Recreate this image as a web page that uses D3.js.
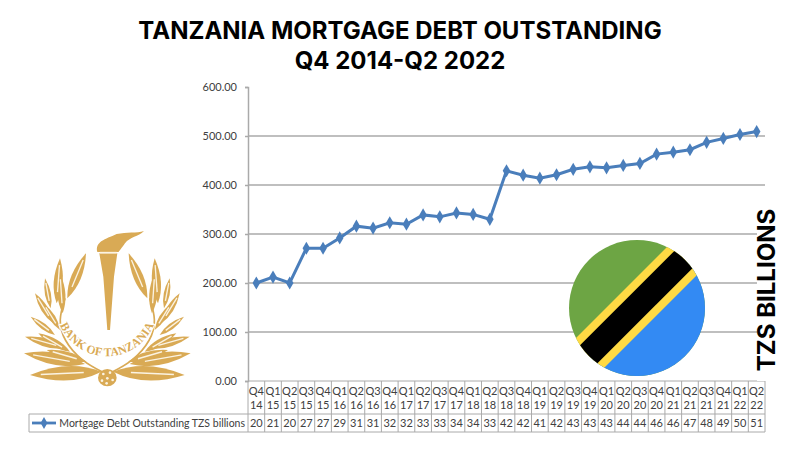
<!DOCTYPE html>
<html>
<head>
<meta charset="utf-8">
<script src="https://cdn.jsdelivr.net/npm/d3@7"></script>
<style>
    html, body { margin: 0; padding: 0; background: #fff; }
    svg { display: block; }
    .cell-text { font-family: Lato, sans-serif; font-size: 11px; fill: #404040; text-anchor: middle; }
    .legend-text { font-size: 10.5px; }
</style>
</head>
<body>
<svg id="chart" width="800" height="450"></svg>
<script>
const quarters = ["Q4","Q1","Q2","Q3","Q4","Q1","Q2","Q3","Q4","Q1","Q2","Q3","Q4","Q1","Q2","Q3",
    "Q4","Q1","Q2","Q3","Q4","Q1","Q2","Q3","Q4","Q1","Q2","Q3","Q4","Q1","Q2"];
const years = ["14","15","15","15","15","16","16","16","16","17","17","17","17","18","18","18",
    "18","19","19","19","19","20","20","20","20","21","21","21","21","22","22"];
const debtValues = [200,212,200,271,271,292,316,312,323,320,339,335,343,340,330,429,
    420,414,421,432,437,435,440,444,463,467,472,487,495,503,509];
const tableLabels = ["20","21","20","27","27","29","31","31","32","32","33","33","34","34","33","42",
    "42","41","42","43","43","43","44","44","46","46","47","48","49","50","51"];
const yTicks = [0,100,200,300,400,500,600];
const seriesName = "Mortgage Debt Outstanding TZS billions";

// wreath leaves of the logo, left side: base x, base y, tip x, tip y
const leaves = [[172,235,228,100],[140,250,150,115],[158,280,150,160],[122,265,105,175],
    [130,310,75,220],[150,330,100,250],[135,345,62,290],[170,385,45,350],[180,395,85,340],
    [225,432,42,400],[275,455,60,465],[230,425,110,390]];
const stemPoints = [[290,462],[215,425],[160,360],[145,300],[165,235]];

const svg = d3.select('#chart');
const margin = { top: 87, left: 248, right: 35, bottom: 69 };
const width = 800, height = 450;
const plotW = width - margin.left - margin.right;
const plotH = height - margin.top - margin.bottom;
const gridColor = '#aaaaaa';
const seriesColor = '#4a7ebb';
const gold = '#d9aa55';
const paleGold = '#fbf3e2';

const xScale = d3.scaleBand().domain(d3.range(debtValues.length)).range([0, plotW]);
const yScale = d3.scaleLinear().domain([0, 600]).range([plotH, 0]);

const g = svg.append('g').attr('transform', `translate(${margin.left},${margin.top})`);

// gridlines
g.selectAll('.grid').data(yTicks.slice(1, -1)).enter().append('line')
    .attr('x1', 0).attr('x2', plotW)
    .attr('y1', d => yScale(d)).attr('y2', d => yScale(d))
    .attr('stroke', gridColor).attr('stroke-width', 1.5);

const yAxis = d3.axisLeft(yScale).tickValues(yTicks).tickFormat(d3.format('.2f')).tickSize(3).tickPadding(8);
const yG = g.append('g').call(yAxis);
yG.select('.domain').attr('stroke', gridColor).attr('stroke-width', 1.5);
yG.selectAll('.tick line').attr('stroke', gridColor).attr('stroke-width', 1.5);
yG.selectAll('text').style('font-family', 'Lato, sans-serif').style('font-size', '11px').attr('fill', '#404040');

// data table under the plot
const tableTop = plotH, rowLine = plotH + 33, tableBottom = plotH + 51, legendLeft = 29 - margin.left;
const cells = g.append('g').attr('stroke', gridColor).attr('stroke-width', 1).attr('fill', 'none');
[tableTop].forEach(y => cells.append('line').attr('x1', 0).attr('x2', plotW).attr('y1', y).attr('y2', y));
[rowLine, tableBottom].forEach(y => cells.append('line').attr('x1', legendLeft).attr('x2', plotW).attr('y1', y).attr('y2', y));
cells.append('line').attr('x1', legendLeft).attr('x2', legendLeft).attr('y1', rowLine).attr('y2', tableBottom);
d3.range(debtValues.length + 1).forEach(i => {
    const x = i === debtValues.length ? plotW : xScale(i);
    cells.append('line').attr('x1', x).attr('x2', x).attr('y1', tableTop).attr('y2', tableBottom);
});

const cx = i => xScale(i) + xScale.bandwidth() / 2;
[[quarters, tableTop + 14], [years, tableTop + 28], [tableLabels, rowLine + 13]].forEach(([labels, y]) => {
    g.selectAll(null).data(labels).enter().append('text')
        .attr('class', 'cell-text')
        .attr('x', (d, i) => cx(i)).attr('y', y)
        .text(d => d);
});

// legend cell
g.append('line').attr('x1', legendLeft + 3).attr('x2', legendLeft + 27)
    .attr('y1', rowLine + 9).attr('y2', rowLine + 9)
    .attr('stroke', seriesColor).attr('stroke-width', 2.8);
g.append('path').attr('d', d3.symbol(d3.symbolDiamond, 40))
    .attr('transform', `translate(${legendLeft + 15},${rowLine + 9})`).attr('fill', seriesColor);
g.append('text').attr('class', 'cell-text legend-text').style('text-anchor', 'end')
    .attr('x', -3).attr('y', rowLine + 13).text(seriesName);

// series
const line = d3.line().x((d, i) => cx(i)).y(d => yScale(d));
g.append('path').datum(debtValues).attr('d', line)
    .attr('fill', 'none').attr('stroke', seriesColor).attr('stroke-width', 3);
g.selectAll('.pt').data(debtValues).enter().append('path')
    .attr('d', d3.symbol(d3.symbolDiamond, 50))
    .attr('transform', (d, i) => `translate(${cx(i)},${yScale(d)})`)
    .attr('fill', seriesColor);

// titles
const titleFont = 'Inter, sans-serif';
svg.selectAll('.title').data(["TANZANIA MORTGAGE DEBT OUTSTANDING", "Q4 2014-Q2 2022"]).enter().append('text')
    .attr('x', 400).attr('y', (d, i) => 39 + i * 30)
    .attr('text-anchor', 'middle')
    .style('font-family', titleFont).style('font-weight', 700).style('font-size', '24px')
    .attr('fill', '#000').text(d => d);

// white box behind the rotated axis title
svg.append('rect').attr('x', 757).attr('y', 205).attr('width', 40).attr('height', 176).attr('fill', '#fff');
svg.append('text')
    .attr('transform', 'translate(775,290) rotate(-90)')
    .attr('text-anchor', 'middle')
    .style('font-family', titleFont).style('font-weight', 700).style('font-size', '24px')
    .attr('fill', '#000').text('TZS BILLIONS');

// flag
const defs = svg.append('defs');
defs.append('clipPath').attr('id', 'flagClip').append('circle').attr('cx', 637).attr('cy', 308).attr('r', 68);
const flag = svg.append('g').attr('clip-path', 'url(#flagClip)');
flag.append('rect').attr('x', 569).attr('y', 240).attr('width', 136).attr('height', 136).attr('fill', '#6da544');
flag.append('path').attr('d', 'M565,381 L720,381 L720,226 Z').attr('fill', '#338af3');
flag.append('line').attr('x1', 555).attr('y1', 388).attr('x2', 725).attr('y2', 218)
    .attr('stroke', '#ffda44').attr('stroke-width', 41);
flag.append('line').attr('x1', 555).attr('y1', 388).attr('x2', 725).attr('y2', 218)
    .attr('stroke', '#000').attr('stroke-width', 25);

// Bank of Tanzania logo, drawn in the 3x crop coordinates
const logo = svg.append('g').attr('transform', 'translate(10,220) scale(0.3333)');
function leafPath(b) {
    const [x0, y0, x1, y1] = b;
    const dx = x1 - x0, dy = y1 - y0;
    const w = 0.2;
    const mx = x0 + dx * 0.45, my = y0 + dy * 0.45;
    return `M${x0},${y0} Q${mx - dy * w},${my + dx * w} ${x1},${y1} Q${mx + dy * w},${my - dx * w} ${x0},${y0} Z`;
}
[1, -1].forEach(side => {
    const branch = logo.append('g').attr('transform', side === 1 ? null : 'translate(584,0) scale(-1,1)');
    branch.append('path').datum(stemPoints)
        .attr('d', d3.line().curve(d3.curveBasis))
        .attr('fill', 'none').attr('stroke', gold).attr('stroke-width', 5);
    branch.selectAll(null).data(leaves).enter().append('path')
        .attr('d', leafPath).attr('fill', gold);
    branch.selectAll(null).data(leaves).enter().append('line')
        .attr('x1', d => d[0] + (d[2] - d[0]) * 0.25).attr('y1', d => d[1] + (d[3] - d[1]) * 0.25)
        .attr('x2', d => d[0] + (d[2] - d[0]) * 0.85).attr('y2', d => d[1] + (d[3] - d[1]) * 0.85)
        .attr('stroke', paleGold).attr('stroke-width', 4);
});
// torch
logo.append('path').attr('d', 'M268,100 L322,100 L312,170 L300,330 L292,330 L280,170 Z').attr('fill', gold);
logo.append('path').attr('d', 'M262,96 C255,65 285,58 320,42 C350,36 380,40 402,33 C385,50 360,50 345,70 C335,85 328,92 326,96 Z').attr('fill', gold);
logo.append('path').attr('d', 'M270,98 L320,98').attr('stroke', paleGold).attr('stroke-width', 5);
// knot
logo.append('ellipse').attr('cx', 292).attr('cy', 473).attr('rx', 28).attr('ry', 26).attr('fill', gold);
[[280,462],[300,458],[292,475],[276,482],[308,480],[290,490]].forEach(p => {
    logo.append('circle').attr('cx', p[0]).attr('cy', p[1]).attr('r', 4).attr('fill', paleGold);
});
// lettering, with a white halo so it reads over the leaves
defs.append('path').attr('id', 'logoArc').attr('d', 'M140,285 A155,160 0 0 0 442,285');
logo.append('text').style('font-family', '"Liberation Serif", serif').style('font-weight', 700)
    .style('font-size', '36px').attr('fill', gold)
    .attr('stroke', '#fff').attr('stroke-width', 7).attr('paint-order', 'stroke')
    .append('textPath').attr('href', '#logoArc').attr('startOffset', '50%').attr('text-anchor', 'middle')
    .text('BANK OF TANZANIA');
</script>
</body>
</html>
